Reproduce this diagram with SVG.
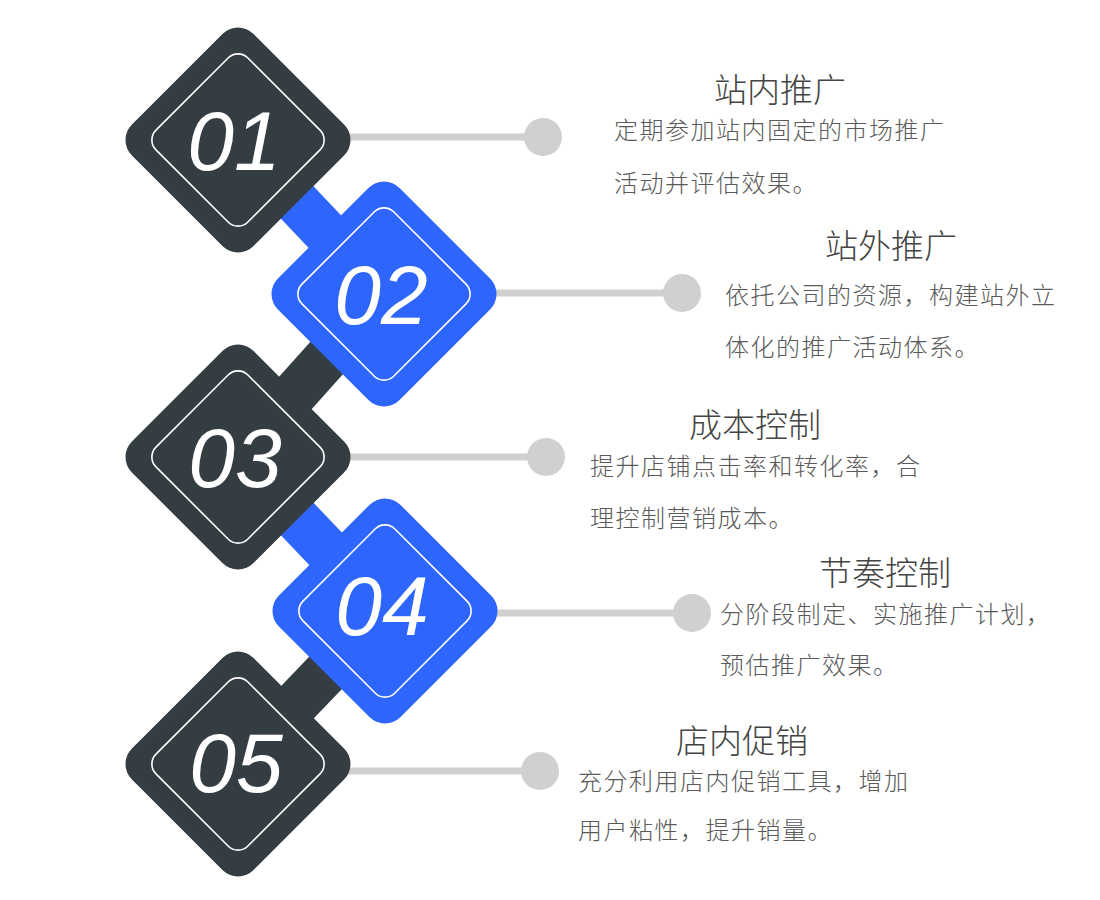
<svg xmlns="http://www.w3.org/2000/svg" width="1100" height="900" viewBox="0 0 1100 900">
<style>
.dark{fill:#333d42}
.blue{fill:#2e66fd}
.inner{fill:none;stroke:#ffffff;stroke-width:1.6}
.num{font-family:"Liberation Sans",Arial,sans-serif;font-style:italic;font-size:84px;fill:#ffffff;text-anchor:middle}
.title{font-family:"Noto Sans CJK SC","Noto Sans",sans-serif;font-size:33px;font-weight:300;fill:#444444}
.desc{font-family:"Noto Sans CJK SC","Noto Sans",sans-serif;font-size:24px;font-weight:300;letter-spacing:1.5px;fill:#5a5a5a}
.lead{stroke:#d0d0d0;stroke-width:7}
.dot{fill:#d0d0d0}
</style>
<rect width="1100" height="900" fill="#ffffff"/>
<g id="connectors">
  <line x1="238" y1="140" x2="384" y2="294" stroke="#2e66fd" stroke-width="46"/>
  <line x1="384" y1="294" x2="238" y2="457" stroke="#333d42" stroke-width="46"/>
  <line x1="238" y1="457" x2="385" y2="611" stroke="#2e66fd" stroke-width="46"/>
  <line x1="385" y1="611" x2="238" y2="764" stroke="#333d42" stroke-width="46"/>
  <line class="lead" x1="340" y1="137" x2="543" y2="137"/>
  <circle class="dot" cx="543" cy="137" r="19"/>
  <line class="lead" x1="490" y1="293" x2="682" y2="293"/>
  <circle class="dot" cx="682" cy="293" r="19"/>
  <line class="lead" x1="340" y1="457" x2="546" y2="457"/>
  <circle class="dot" cx="546" cy="457" r="19"/>
  <line class="lead" x1="490" y1="613" x2="692" y2="613"/>
  <circle class="dot" cx="692" cy="613" r="19"/>
  <line class="lead" x1="340" y1="771" x2="540" y2="771"/>
  <circle class="dot" cx="540" cy="771" r="19"/>
</g>
<g id="node01">
  <rect class="dark" x="-86" y="-86" width="172" height="172" rx="22" transform="translate(238,140) rotate(45)"/>
  <rect class="inner" x="-65" y="-65" width="130" height="130" rx="14" transform="translate(238,140) rotate(45)"/>
  <text class="num" x="234" y="170">01</text>
  <text class="title" x="714" y="102">站内推广</text>
  <text class="desc" x="614" y="139">定期参加站内固定的市场推广</text>
  <text class="desc" x="614" y="192">活动并评估效果。</text>
</g>
<g id="node02">
  <rect class="blue" x="-86" y="-86" width="172" height="172" rx="22" transform="translate(384,294) rotate(45)"/>
  <rect class="inner" x="-65" y="-65" width="130" height="130" rx="14" transform="translate(384,294) rotate(45)"/>
  <text class="num" x="381" y="324">02</text>
  <text class="title" x="825" y="258">站外推广</text>
  <text class="desc" x="725" y="304">依托公司的资源，构建站外立</text>
  <text class="desc" x="725" y="356">体化的推广活动体系。</text>
</g>
<g id="node03">
  <rect class="dark" x="-86" y="-86" width="172" height="172" rx="22" transform="translate(238,457) rotate(45)"/>
  <rect class="inner" x="-65" y="-65" width="130" height="130" rx="14" transform="translate(238,457) rotate(45)"/>
  <text class="num" x="235" y="487">03</text>
  <text class="title" x="689" y="437">成本控制</text>
  <text class="desc" x="590" y="475">提升店铺点击率和转化率，合</text>
  <text class="desc" x="590" y="527">理控制营销成本。</text>
</g>
<g id="node04">
  <rect class="blue" x="-86" y="-86" width="172" height="172" rx="22" transform="translate(385,611) rotate(45)"/>
  <rect class="inner" x="-65" y="-65" width="130" height="130" rx="14" transform="translate(385,611) rotate(45)"/>
  <text class="num" x="382" y="635">04</text>
  <text class="title" x="819" y="585">节奏控制</text>
  <text class="desc" x="720" y="623">分阶段制定、实施推广计划，</text>
  <text class="desc" x="720" y="674">预估推广效果。</text>
</g>
<g id="node05">
  <rect class="dark" x="-86" y="-86" width="172" height="172" rx="22" transform="translate(238,764) rotate(45)"/>
  <rect class="inner" x="-65" y="-65" width="130" height="130" rx="14" transform="translate(238,764) rotate(45)"/>
  <text class="num" x="236" y="792">05</text>
  <text class="title" x="676" y="753">店内促销</text>
  <text class="desc" x="578" y="790">充分利用店内促销工具，增加</text>
  <text class="desc" x="578" y="839">用户粘性，提升销量。</text>
</g>
</svg>
